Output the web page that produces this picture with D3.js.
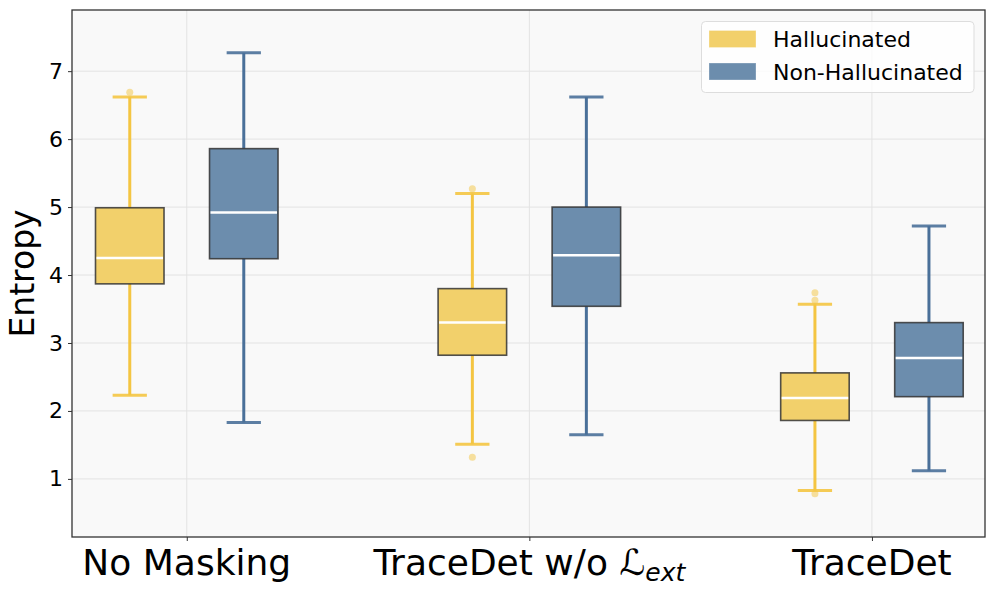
<!DOCTYPE html>
<html>
<head>
<meta charset="utf-8">
<script src="https://cdn.jsdelivr.net/npm/d3@7"></script>
<style>
  html, body { margin: 0; padding: 0; background: #ffffff; }
  svg { display: block; font-family: "DejaVu Sans", sans-serif; }
</style>
</head>
<body>
<svg id="chart" width="996" height="593"></svg>
<script>
// ---- data ----
const categories = ["No Masking", "TraceDet w/o L_ext", "TraceDet"];
const seriesNames = ["Hallucinated", "Non-Hallucinated"];
const yTicks = [1, 2, 3, 4, 5, 6, 7];

const halWhiskLow  = [2.23, 1.51, 0.83];
const halQ1        = [3.87, 2.82, 1.86];
const halMedian    = [4.25, 3.30, 2.19];
const halQ3        = [4.99, 3.80, 2.56];
const halWhiskHigh = [6.62, 5.20, 3.57];
const halOutliers  = [[6.69], [5.27, 1.32], [3.74, 3.63, 0.78]];

const nonWhiskLow  = [1.83, 1.65, 1.12];
const nonQ1        = [4.24, 3.54, 2.21];
const nonMedian    = [4.92, 4.29, 2.78];
const nonQ3        = [5.86, 5.00, 3.30];
const nonWhiskHigh = [7.27, 6.62, 4.72];
const nonOutliers  = [[], [], []];

// ---- layout ----
const svg = d3.select("#chart");
const plot = { left: 72, right: 985, top: 10, bottom: 537 };
const fills = ["#F2D06B", "#6C8DAD"];
const lines = ["#F4C542", "#4A7099"];
const offsets = [-0.1664, 0.1664];
const boxW = 0.2;

const x = d3.scaleLinear().domain([-0.335, 2.33]).range([plot.left, plot.right]);
const y = d3.scaleLinear().domain([0.145, 7.9]).range([plot.bottom, plot.top]);

// background
svg.append("rect").attr("x", plot.left).attr("y", plot.top)
  .attr("width", plot.right - plot.left).attr("height", plot.bottom - plot.top)
  .attr("fill", "#F9F9F9");

// grid
const grid = svg.append("g");
grid.selectAll("line.h").data(yTicks).join("line")
  .attr("x1", plot.left).attr("x2", plot.right)
  .attr("y1", d => y(d)).attr("y2", d => y(d))
  .attr("stroke", "#e3e3e3").attr("stroke-width", 1);
grid.selectAll("line.v").data(categories.map((c, i) => i)).join("line")
  .attr("y1", plot.top).attr("y2", plot.bottom)
  .attr("x1", d => x(d)).attr("x2", d => x(d))
  .attr("stroke", "#e3e3e3").attr("stroke-width", 1);

// series
const series = [
  { lo: halWhiskLow, q1: halQ1, med: halMedian, q3: halQ3, hi: halWhiskHigh, out: halOutliers },
  { lo: nonWhiskLow, q1: nonQ1, med: nonMedian, q3: nonQ3, hi: nonWhiskHigh, out: nonOutliers }
];

series.forEach((s, si) => {
  const g = svg.append("g");
  categories.forEach((c, i) => {
    const cx = x(i + offsets[si]);
    const half = (x(boxW) - x(0)) / 2;
    const capHalf = half / 2;
    // whiskers
    g.append("line").attr("x1", cx).attr("x2", cx).attr("y1", y(s.q3[i])).attr("y2", y(s.hi[i]))
      .attr("stroke", lines[si]).attr("stroke-width", 3);
    g.append("line").attr("x1", cx).attr("x2", cx).attr("y1", y(s.q1[i])).attr("y2", y(s.lo[i]))
      .attr("stroke", lines[si]).attr("stroke-width", 3);
    // caps
    [s.hi[i], s.lo[i]].forEach(v => {
      g.append("line").attr("x1", cx - capHalf).attr("x2", cx + capHalf)
        .attr("y1", y(v)).attr("y2", y(v))
        .attr("stroke", lines[si]).attr("stroke-width", 3).attr("stroke-opacity", 0.9);
    });
    // box
    g.append("rect").attr("x", cx - half).attr("width", 2 * half)
      .attr("y", y(s.q3[i])).attr("height", y(s.q1[i]) - y(s.q3[i]))
      .attr("fill", fills[si]).attr("stroke", "#333").attr("stroke-opacity", 0.85)
      .attr("stroke-width", 1.6);
    // median
    g.append("line").attr("x1", cx - half + 1).attr("x2", cx + half - 1)
      .attr("y1", y(s.med[i])).attr("y2", y(s.med[i]))
      .attr("stroke", "#ffffff").attr("stroke-width", 2.5);
    // outliers
    g.selectAll(null).data(s.out[i]).join("circle")
      .attr("cx", cx).attr("cy", d => y(d)).attr("r", 3.5)
      .attr("fill", lines[si]).attr("fill-opacity", 0.5);
  });
});

// axes
const yAxis = d3.axisLeft(y).tickValues(yTicks).tickSize(4).tickPadding(5).tickFormat(d3.format("d"));
const yg = svg.append("g").attr("transform", `translate(${plot.left},0)`).call(yAxis);
yg.select(".domain").remove();
yg.selectAll("text").attr("font-size", 22).attr("fill", "#000").attr("font-family", "DejaVu Sans");
yg.selectAll("line").attr("stroke", "#333");

const xAxis = d3.axisBottom(x).tickValues([0, 1, 2]).tickSize(4).tickFormat("");
const xg = svg.append("g").attr("transform", `translate(0,${plot.bottom})`).call(xAxis);
xg.select(".domain").remove();
xg.selectAll("line").attr("stroke", "#333");

// x labels with math
const labelY = 575;
[0, 2].forEach(i => {
  svg.append("text").attr("x", x(i)).attr("y", labelY).attr("text-anchor", "middle")
    .attr("font-size", 36).attr("fill", "#000").text(categories[i]);
});
const t1 = svg.append("text").attr("x", x(1)).attr("y", labelY).attr("text-anchor", "middle")
  .attr("font-size", 36).attr("fill", "#000");
t1.append("tspan").text("TraceDet w/o ");
t1.append("tspan").attr("font-style", "italic").text("\u2112");
t1.append("tspan").attr("font-style", "italic").attr("font-size", 25).attr("dy", 6).text("ext");

// spines
svg.append("rect").attr("x", plot.left).attr("y", plot.top)
  .attr("width", plot.right - plot.left).attr("height", plot.bottom - plot.top)
  .attr("fill", "none").attr("stroke", "#333").attr("stroke-width", 1.3);

// y label
svg.append("text").attr("transform", `translate(34,${(plot.top + plot.bottom) / 2}) rotate(-90)`)
  .attr("text-anchor", "middle").attr("font-size", 33).attr("fill", "#000").text("Entropy");

// legend
const lg = svg.append("g").attr("transform", "translate(701.5,21.5)");
lg.append("rect").attr("width", 272.5).attr("height", 71).attr("rx", 4)
  .attr("fill", "#ffffff").attr("fill-opacity", 0.8).attr("stroke", "#dddddd");
seriesNames.forEach((n, i) => {
  lg.append("rect").attr("x", 8).attr("y", 9.5 + i * 32.5).attr("width", 46).attr("height", 16)
    .attr("fill", fills[i]).attr("stroke", fills[i]).attr("stroke-opacity", 0.7);
  lg.append("text").attr("x", 71.5).attr("y", 25.5 + i * 32.5).attr("font-size", 22)
    .attr("fill", "#000").text(n);
});
</script>
</body>
</html>
